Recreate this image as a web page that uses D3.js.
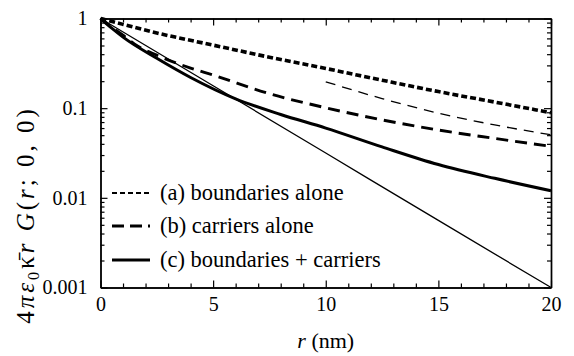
<!DOCTYPE html>
<html><head><meta charset="utf-8">
<script src="https://cdn.jsdelivr.net/npm/d3@7"></script>
</head>
<body style="margin:0">
<svg id="c" width="574" height="356"></svg>
<script>
// ---- data ----
const rBoundaries = [0, 1, 2.5, 5, 7.5, 10, 12.5, 15, 17.5, 20];
const vBoundaries = [1, 0.86, 0.69, 0.505, 0.37, 0.277, 0.205, 0.153, 0.117, 0.089];
const rCarriers = [0, 0.5, 1, 1.5, 2.5, 4, 5, 7.5, 10, 12.5, 15, 17.5, 20];
const vCarriers = [1, 0.8, 0.65, 0.52, 0.39, 0.28, 0.234, 0.145, 0.101, 0.074, 0.057, 0.046, 0.0375];
const rBoth = [0, 0.5, 1, 2.5, 4, 6, 8, 10, 12.5, 15, 17.5, 20];
const vBoth = [1, 0.78, 0.62, 0.36, 0.22, 0.127, 0.085, 0.06, 0.037, 0.0235, 0.0165, 0.012];
const rAsym = [10, 12.5, 15, 17.5, 20];
const vAsym = [0.197, 0.128, 0.088, 0.065, 0.0505];
const rExp = [0, 5, 10, 15, 20];
const vExp = [1, 0.178, 0.0316, 0.0056, 0.001];
const xTicks = [0, 5, 10, 15, 20];
const yTicks = [1, 0.1, 0.01, 0.001];
const yTickLabels = ["1", "0.1", "0.01", "0.001"];
const legendLabels = ["(a) boundaries alone", "(b) carriers alone", "(c) boundaries + carriers"];

const FONT = '"Liberation Serif"';
const svg = d3.select("#c");
const L = 100.5, R = 551, T = 18.5, B = 287.5;
const x = d3.scaleLinear().domain([0, 20]).range([L, R]);
const y = d3.scaleLog().domain([0.001, 1]).range([B, T]);

const xMinor = d3.range(0, 21, 1).filter(v => v % 5 !== 0);
const yMinor = [];
[-3, -2, -1].forEach(k => { for (let m = 2; m <= 9; m++) yMinor.push(m * Math.pow(10, k)); });

function styleAxis(g) {
  g.attr("font-family", null).attr("font-size", null);
  g.select(".domain").attr("stroke", "#000").attr("stroke-width", 1.4);
  g.selectAll(".tick line").attr("stroke", "#000").attr("stroke-width", 1.2);
  g.selectAll(".tick text").attr("fill", "#000").style("font-family", FONT).style("font-size", "20px");
}
// bottom
svg.append("g").attr("transform", `translate(0,${B})`)
  .call(d3.axisBottom(x).tickValues(xTicks).tickFormat(d3.format("d")).tickSizeInner(-7).tickSizeOuter(0).tickPadding(9))
  .call(styleAxis);
svg.append("g").attr("transform", `translate(0,${B})`)
  .call(d3.axisBottom(x).tickValues(xMinor).tickFormat("").tickSizeInner(-4).tickSizeOuter(0))
  .call(styleAxis);
// top
svg.append("g").attr("transform", `translate(0,${T})`)
  .call(d3.axisTop(x).tickValues(xTicks).tickFormat("").tickSizeInner(-7).tickSizeOuter(0))
  .call(styleAxis);
svg.append("g").attr("transform", `translate(0,${T})`)
  .call(d3.axisTop(x).tickValues(xMinor).tickFormat("").tickSizeInner(-4).tickSizeOuter(0))
  .call(styleAxis);
// left
svg.append("g").attr("transform", `translate(${L},0)`)
  .call(d3.axisLeft(y).tickValues(yTicks).tickFormat((d, i) => yTickLabels[i]).tickSizeInner(-7).tickSizeOuter(0).tickPadding(13))
  .call(styleAxis);
svg.append("g").attr("transform", `translate(${L},0)`)
  .call(d3.axisLeft(y).tickValues(yMinor).tickFormat("").tickSizeInner(-4).tickSizeOuter(0))
  .call(styleAxis);
// right
svg.append("g").attr("transform", `translate(${R},0)`)
  .call(d3.axisRight(y).tickValues(yTicks).tickFormat("").tickSizeInner(-7).tickSizeOuter(0))
  .call(styleAxis);
svg.append("g").attr("transform", `translate(${R},0)`)
  .call(d3.axisRight(y).tickValues(yMinor).tickFormat("").tickSizeInner(-4).tickSizeOuter(0))
  .call(styleAxis);

// curves
const line = d3.line().x(d => x(d[0])).y(d => y(d[1])).curve(d3.curveMonotoneX);
const zip = (a, b) => a.map((v, i) => [v, b[i]]);
const plot = svg.append("g");
plot.append("path").datum(zip(rExp, vExp)).attr("d", line)
  .attr("fill", "none").attr("stroke", "#000").attr("stroke-width", 1.3);
plot.append("path").datum(zip(rAsym, vAsym)).attr("d", line)
  .attr("fill", "none").attr("stroke", "#000").attr("stroke-width", 1.3).attr("stroke-dasharray", "10,7");
plot.append("path").datum(zip(rBoundaries, vBoundaries)).attr("d", line)
  .attr("fill", "none").attr("stroke", "#000").attr("stroke-width", 3.6).attr("stroke-dasharray", "6,3");
plot.append("path").datum(zip(rCarriers, vCarriers)).attr("d", line)
  .attr("fill", "none").attr("stroke", "#000").attr("stroke-width", 2.9).attr("stroke-dasharray", "12,7");
plot.append("path").datum(zip(rBoth, vBoth)).attr("d", line)
  .attr("fill", "none").attr("stroke", "#000").attr("stroke-width", 3);

// legend
const legY = [193, 226, 260];
const legDash = ["5,3", "12,6", null];
const legW = [1.8, 3, 3];
legendLabels.forEach((t, i) => {
  const l = svg.append("line").attr("x1", 112).attr("x2", 150).attr("y1", legY[i]).attr("y2", legY[i])
    .attr("stroke", "#000").attr("stroke-width", legW[i]);
  if (legDash[i]) l.attr("stroke-dasharray", legDash[i]);
  svg.append("text").attr("x", 160).attr("y", legY[i] + 7)
    .style("font-family", FONT).style("font-size", "22.5px").text(t);
});

// x label
const xl = svg.append("text").attr("x", (L + R) / 2).attr("y", 348).attr("text-anchor", "middle")
  .style("font-family", FONT).style("font-size", "22px");
xl.append("tspan").style("font-style", "italic").text("r");
xl.append("tspan").text(" (nm)");

// y label
const yl = svg.append("text").attr("transform", "translate(34,215) rotate(-90)").attr("text-anchor", "middle")
  .style("font-family", FONT).style("font-size", "25px").style("letter-spacing", "3px");
yl.append("tspan").text("4");
yl.append("tspan").style("font-style", "italic").text("πε");
yl.append("tspan").attr("dy", 5).style("font-size", "16px").text("0");
yl.append("tspan").attr("dy", -5).text("κ̄");
yl.append("tspan").style("font-style", "italic").text("r");
yl.append("tspan").text("  ");
yl.append("tspan").style("font-style", "italic").text("G");
yl.append("tspan").text("(");
yl.append("tspan").style("font-style", "italic").text("r");
yl.append("tspan").text("; 0, 0)");
</script></body></html>
